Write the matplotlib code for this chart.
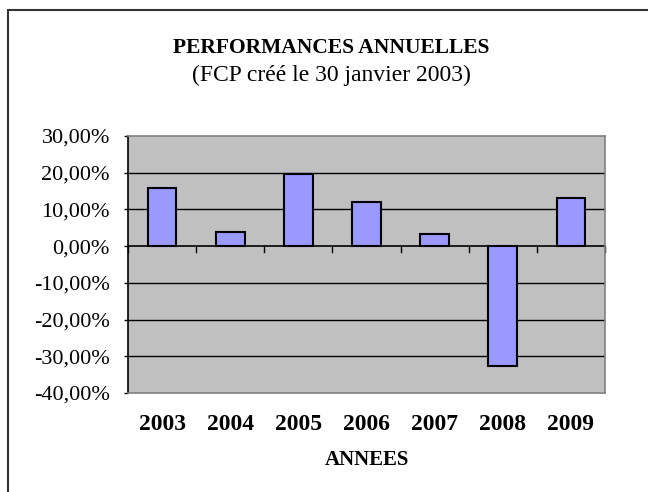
import matplotlib
matplotlib.use("Agg")
import matplotlib.pyplot as plt
from matplotlib.patches import Rectangle
import numpy as np

years = ["2003", "2004", "2005", "2006", "2007", "2008", "2009"]
perf = [15.9, 3.8, 19.7, 12.1, 3.3, -32.7, 13.2]
yticks = [30, 20, 10, 0, -10, -20, -30, -40]

plt.rcParams['font.family'] = ['Liberation Serif', 'DejaVu Serif']

fig = plt.figure(figsize=(6.48, 4.92), dpi=100)
fig.patch.set_facecolor('white')
# outer frame
fig.patches.append(Rectangle((8/648, -0.5), 2, 1.5 - 10/492, transform=fig.transFigure,
                             fill=False, edgecolor='#333333', linewidth=1.5, clip_on=False))

ax = fig.add_axes([128/648, 99/492, 477/648, 257/492])
ax.set_facecolor('#C0C0C0')
x = np.arange(len(years))
ax.set_xlim(-0.5, len(years) - 0.5)
ax.set_ylim(-40, 30)

for v in [20, 10, -10, -20, -30]:
    ax.axhline(v, color='black', linewidth=1.0, zorder=1)

ax.bar(x, perf, width=0.42, color='#9999FF', edgecolor='black', linewidth=1.5, zorder=3)

ax.axhline(0, color='black', linewidth=1.2, zorder=2)
for b in np.arange(-0.5, len(years), 1.0):
    ax.plot([b, b], [0, -1.5], color='black', linewidth=1.0, zorder=2, clip_on=False)

for s in ['top', 'right', 'bottom']:
    ax.spines[s].set_color('#808080')
    ax.spines[s].set_linewidth(1.2)
ax.spines['left'].set_color('black')
ax.spines['left'].set_linewidth(1.2)

ax.set_yticks(yticks)
ax.set_yticklabels([f"{v},00%" for v in yticks], fontsize=16)
ax.tick_params(axis='y', direction='out', length=3, width=1, pad=10)
ax.set_xticks(x)
ax.set_xticklabels(years, fontsize=17, fontweight='bold')
ax.tick_params(axis='x', length=0, pad=15)
ax.set_xlabel("ANNEES", fontsize=15, fontweight='bold', labelpad=11)

fig.text(331/648, 1 - 53/492, "PERFORMANCES ANNUELLES", ha='center', va='baseline',
         fontsize=15.5, fontweight='bold')
fig.text(331/648, 1 - 81/492, "(FCP créé le 30 janvier 2003)", ha='center', va='baseline',
         fontsize=17)

fig.savefig("out.png", dpi=100)
